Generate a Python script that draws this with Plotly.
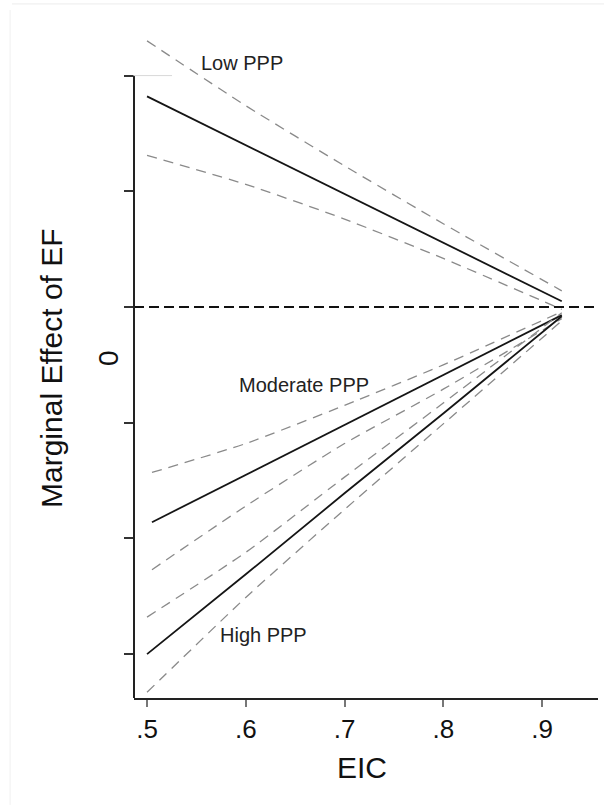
import plotly.graph_objects as go

# Marginal effect of EF across EIC, by PPP level (estimate and confidence bounds)
eic_low = [0.5, 0.6, 0.7, 0.8, 0.92]
low_est = [1.82, 1.40, 0.98, 0.56, 0.05]
low_hi = [2.30, 1.74, 1.22, 0.72, 0.14]
low_lo = [1.31, 1.06, 0.76, 0.42, -0.02]

eic_mod = [0.505, 0.6, 0.7, 0.8, 0.92]
mod_est = [-1.86, -1.45, -1.02, -0.59, -0.07]
mod_hi = [-1.43, -1.18, -0.85, -0.50, -0.04]
mod_lo = [-2.27, -1.72, -1.18, -0.71, -0.10]

eic_high = [0.5, 0.6, 0.7, 0.8, 0.92]
high_est = [-3.00, -2.31, -1.61, -0.92, -0.08]
high_hi = [-2.68, -2.12, -1.47, -0.83, -0.05]
high_lo = [-3.33, -2.51, -1.75, -1.01, -0.12]

x_ticks = [0.5, 0.6, 0.7, 0.8, 0.9]
x_tick_text = [".5", ".6", ".7", ".8", ".9"]
y_ticks = [-3, -2, -1, 0, 1, 2]

group_labels = ["Low PPP", "Moderate PPP", "High PPP"]
label_x = [0.596, 0.659, 0.618]
label_y = [2.11, -0.67, -2.835]

X_RANGE = [0.4868, 0.9567]
Y_RANGE = [-3.379, 2.394]

FONT = "Liberation Sans, Arial, sans-serif"
CI_COLOR = "#8a8a8a"
EST_COLOR = "#151515"

fig = go.Figure()

series = [
    (eic_low, low_est, low_hi, low_lo),
    (eic_mod, mod_est, mod_hi, mod_lo),
    (eic_high, high_est, high_hi, high_lo),
]
for xs, est, hi, lo in series:
    for bound in (hi, lo):
        fig.add_trace(go.Scatter(
            x=xs, y=bound, mode="lines",
            line=dict(color=CI_COLOR, width=1.3, dash="10px,7px",
                      shape="spline", smoothing=0.6),
            hoverinfo="skip", showlegend=False))
    fig.add_trace(go.Scatter(
        x=xs, y=est, mode="lines",
        line=dict(color=EST_COLOR, width=1.8),
        showlegend=False))

# zero reference line
fig.add_shape(type="line", xref="paper", yref="y", x0=0, x1=1, y0=0, y1=0,
              line=dict(color="#111111", width=2.2, dash="10px,5px"))
# left axis line, running from the bottom up to the top tick
fig.add_shape(type="line", xref="paper", yref="y", x0=0, x1=0,
              y0=Y_RANGE[0], y1=max(y_ticks),
              line=dict(color="#222222", width=2))
# faint stub at the top tick
fig.add_shape(type="line", xref="paper", yref="y", x0=0, x1=0.082,
              y0=max(y_ticks), y1=max(y_ticks),
              line=dict(color="#d8d8d8", width=1))
# faint frame of the page
fig.add_shape(type="line", xref="paper", yref="paper",
              x0=-0.263, x1=1.02, y0=1.039, y1=1.039,
              line=dict(color="#ececec", width=1))
fig.add_shape(type="line", xref="paper", yref="paper",
              x0=-0.267, x1=-0.267, y0=1.03, y1=-0.16,
              line=dict(color="#f0f0f0", width=1))

for text, lx, ly in zip(group_labels, label_x, label_y):
    fig.add_annotation(x=lx, y=ly, xref="x", yref="y", text=text,
                       showarrow=False, xanchor="center", yanchor="middle",
                       font=dict(family=FONT, size=20, color="#222222"))

# axis titles
fig.add_annotation(x=(52 - 134) / 464, y=(698 - 368) / 668,
                   xref="paper", yref="paper", text="Marginal Effect of EF",
                   textangle=-90, showarrow=False,
                   xanchor="center", yanchor="middle",
                   font=dict(family=FONT, size=30, color="#111111"))
fig.add_annotation(x=(108 - 134) / 464, y=(698 - 358) / 668,
                   xref="paper", yref="paper", text="0",
                   textangle=-90, showarrow=False,
                   xanchor="center", yanchor="middle",
                   font=dict(family=FONT, size=28, color="#111111"))
fig.add_annotation(x=(362 - 134) / 464, y=(698 - 767) / 668,
                   xref="paper", yref="paper", text="EIC",
                   showarrow=False, xanchor="center", yanchor="middle",
                   font=dict(family=FONT, size=30, color="#111111"))

fig.update_xaxes(range=X_RANGE, tickvals=x_ticks, ticktext=x_tick_text,
                 showline=True, linecolor="#222222", linewidth=2,
                 ticks="outside", ticklen=7, tickwidth=1.5, tickcolor="#777777",
                 tickfont=dict(family=FONT, size=26, color="#111111"),
                 showgrid=False, zeroline=False, fixedrange=True)
fig.update_yaxes(range=Y_RANGE, tickvals=y_ticks, showticklabels=False,
                 showline=False, ticks="outside", ticklen=9, tickwidth=1.5,
                 tickcolor="#333333", showgrid=False, zeroline=False,
                 fixedrange=True)

fig.update_layout(width=604, height=806,
                  margin=dict(l=134, r=6, t=30, b=108),
                  paper_bgcolor="white", plot_bgcolor="white",
                  showlegend=False)

fig.write_html("out.html", config={"displayModeBar": False})
